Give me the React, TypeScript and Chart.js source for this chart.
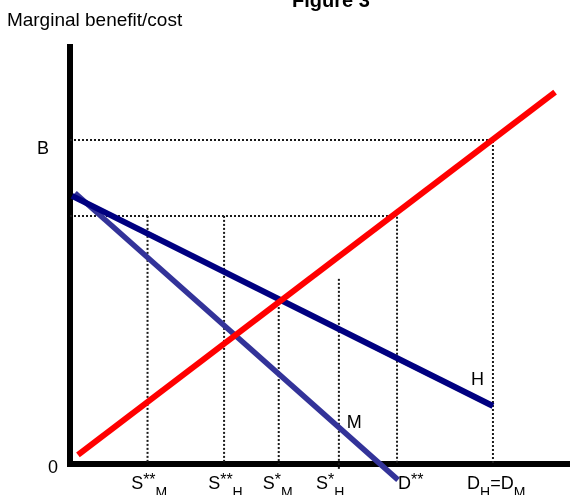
import React, { useEffect, useRef } from "react";
import { Chart, registerables } from "chart.js";

Chart.register(...registerables);

// Curves (data units: x 0..100, y 0..100)
const costLine = [
  { x: 1.6, y: 2.2 },
  { x: 97.6, y: 89.2 },
];
const benefitH = [
  { x: 0.4, y: 64.3 },
  { x: 85.1, y: 13.9 },
];
const benefitM = [
  { x: 1.0, y: 65.0 },
  { x: 66.0, y: -3.8 },
];

// Dotted guide lines
const guideB = [
  { x: 0, y: 77.7 },
  { x: 85.1, y: 77.7 },
  { x: 85.1, y: 0 },
];
const guideD = [
  { x: 0, y: 59.5 },
  { x: 65.8, y: 59.5 },
  { x: 65.8, y: 0 },
];
const guideSMss = [
  { x: 15.6, y: 59.5 },
  { x: 15.6, y: 0 },
];
const guideSHss = [
  { x: 31.0, y: 59.5 },
  { x: 31.0, y: 0 },
];
const guideSMs = [
  { x: 42.0, y: 38.6 },
  { x: 42.0, y: 0 },
];
const guideSHs = [
  { x: 54.1, y: 44.4 },
  { x: 54.1, y: -1.2 },
];

// Tick labels (parts: [text, kind])
const xTickParts: [string, string][][] = [
  [["S", "n"], ["**", "sup"], ["M", "sub"]],
  [["S", "n"], ["**", "sup"], ["H", "sub"]],
  [["S", "n"], ["*", "sup"], ["M", "sub"]],
  [["S", "n"], ["*", "sup"], ["H", "sub"]],
  [["D", "n"], ["**", "sup"]],
  [["D", "n"], ["H", "sub"], ["=D", "n"], ["M", "sub"]],
];
const xTickLeft = [12.3, 27.8, 38.8, 49.5, 66.0, 79.9];
const xTickBaseline = -6.0;

const yTickLabels = ["B", "0"];
const yTickRight = [-4.2, -2.4];
const yTickBaseline = [74.3, -2.2];

const curveLabels = ["H", "M"];
const curveLabelX = [80.7, 55.7];
const curveLabelY = [18.9, 8.6];

const titleText = "Figure 3";
const titleX = 52.5;
const titleY = 109.6;
const axisTitle = "Marginal benefit/cost";
const axisTitleX = -12.7;
const axisTitleY = 105.0;

const FONT = '"Liberation Sans", Arial, Helvetica, sans-serif';

const annotPlugin = {
  id: "annot",
  afterDraw(chart: any) {
    const { ctx } = chart;
    const xs = chart.scales.x;
    const ys = chart.scales.y;
    ctx.save();
    ctx.fillStyle = "#000";
    ctx.textBaseline = "alphabetic";

    ctx.font = `bold 20px ${FONT}`;
    ctx.textAlign = "center";
    ctx.fillText(titleText, xs.getPixelForValue(titleX), ys.getPixelForValue(titleY));

    ctx.textAlign = "left";
    ctx.font = `19px ${FONT}`;
    ctx.fillText(axisTitle, xs.getPixelForValue(axisTitleX), ys.getPixelForValue(axisTitleY));

    ctx.font = `18px ${FONT}`;
    ctx.textAlign = "right";
    yTickLabels.forEach((t, i) => {
      ctx.fillText(t, xs.getPixelForValue(yTickRight[i]), ys.getPixelForValue(yTickBaseline[i]));
    });

    ctx.textAlign = "left";
    curveLabels.forEach((t, i) => {
      ctx.fillText(t, xs.getPixelForValue(curveLabelX[i]), ys.getPixelForValue(curveLabelY[i]));
    });

    const base = ys.getPixelForValue(xTickBaseline);
    xTickParts.forEach((parts, i) => {
      let px = xs.getPixelForValue(xTickLeft[i]);
      parts.forEach(([text, kind]) => {
        let dy = 0;
        if (kind === "n") ctx.font = `18px ${FONT}`;
        else if (kind === "sup") {
          ctx.font = `16px ${FONT}`;
          dy = -4.5;
        } else {
          ctx.font = `14px ${FONT}`;
          dy = 7.5;
        }
        ctx.fillText(text, px, base + dy);
        px += ctx.measureText(text).width;
      });
    });
    ctx.restore();
  },
};

function dotted(data: { x: number; y: number }[]) {
  return {
    data,
    borderColor: "#1a1a1a",
    borderWidth: 2,
    borderDash: [2, 2],
    pointRadius: 0,
    fill: false,
    tension: 0,
    clip: false as const,
  };
}

export default function App() {
  const ref = useRef<HTMLCanvasElement>(null);
  useEffect(() => {
    document.body.style.margin = "0";
    const canvas = ref.current!;
    const chart = new Chart(canvas, {
      type: "line",
      data: {
        datasets: [
          { data: costLine, borderColor: "#ff0000", borderWidth: 6, pointRadius: 0, clip: false as const },
          { data: benefitH, borderColor: "#000080", borderWidth: 6, pointRadius: 0, clip: false as const },
          { data: benefitM, borderColor: "#333399", borderWidth: 5.5, pointRadius: 0, clip: false as const },
          dotted(guideB),
          dotted(guideD),
          dotted(guideSMss),
          dotted(guideSHss),
          dotted(guideSMs),
          dotted(guideSHs),
        ],
      },
      options: {
        responsive: false,
        animation: false,
        devicePixelRatio: 1,
        layout: { padding: { left: 70, right: 3, top: 47, bottom: 31 } },
        plugins: { legend: { display: false }, tooltip: { enabled: false }, title: { display: false } },
        scales: {
          x: {
            type: "linear",
            min: 0,
            max: 100,
            ticks: { display: false },
            grid: { display: false, drawTicks: false, lineWidth: 6 },
            border: { display: true, width: 6, color: "#000" },
          },
          y: {
            type: "linear",
            min: 0,
            max: 100,
            ticks: { display: false },
            grid: { display: false, drawTicks: false, lineWidth: 6 },
            border: { display: true, width: 6, color: "#000" },
          },
        },
      },
      plugins: [annotPlugin],
    });
    return () => chart.destroy();
  }, []);
  return (
    <div style={{ width: 570, height: 495 }}>
      <canvas ref={ref} width={570} height={495} style={{ display: "block" }} />
    </div>
  );
}
